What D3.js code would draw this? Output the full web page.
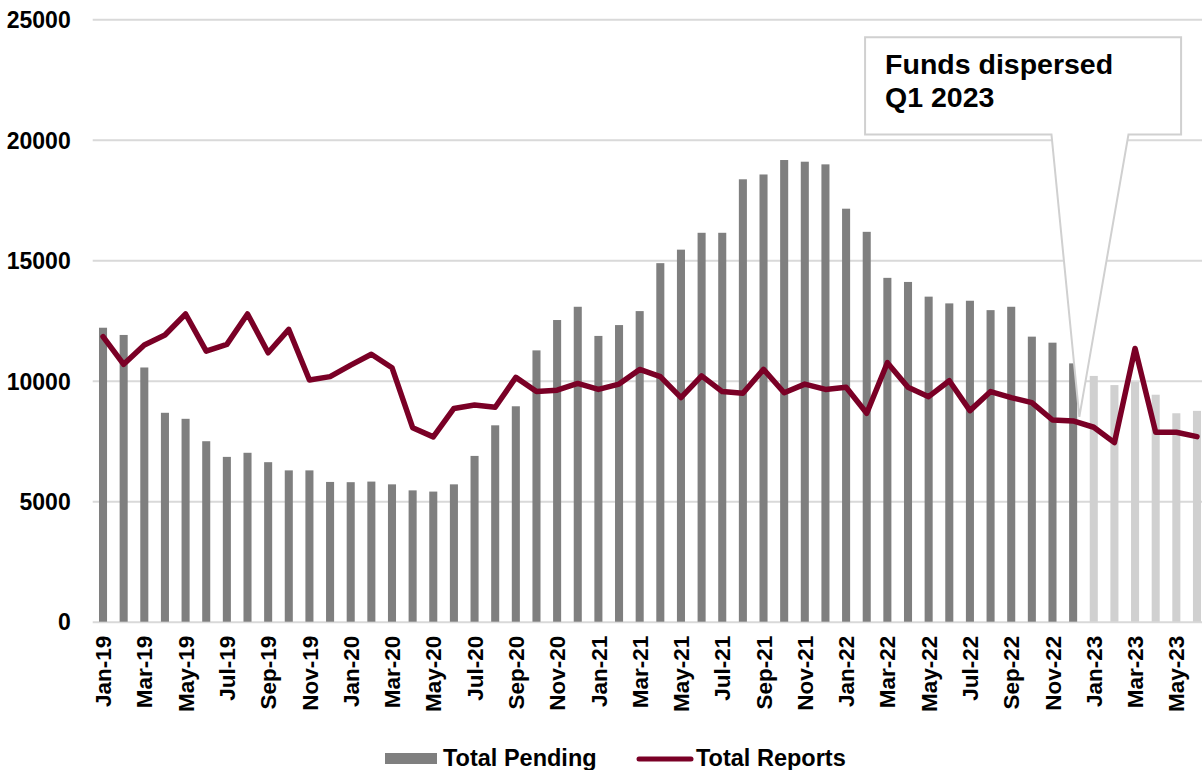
<!DOCTYPE html>
<html>
<head>
<meta charset="utf-8">
<script src="https://cdn.jsdelivr.net/npm/d3@7"></script>
<style>
  html, body { margin: 0; padding: 0; background: #ffffff; }
  svg { display: block; font-family: "Liberation Sans", Arial, sans-serif; }
</style>
</head>
<body>
<script>
const months = [
  "Jan-19","Feb-19","Mar-19","Apr-19","May-19","Jun-19","Jul-19","Aug-19","Sep-19","Oct-19","Nov-19","Dec-19",
  "Jan-20","Feb-20","Mar-20","Apr-20","May-20","Jun-20","Jul-20","Aug-20","Sep-20","Oct-20","Nov-20","Dec-20",
  "Jan-21","Feb-21","Mar-21","Apr-21","May-21","Jun-21","Jul-21","Aug-21","Sep-21","Oct-21","Nov-21","Dec-21",
  "Jan-22","Feb-22","Mar-22","Apr-22","May-22","Jun-22","Jul-22","Aug-22","Sep-22","Oct-22","Nov-22","Dec-22",
  "Jan-23","Feb-23","Mar-23","Apr-23","May-23","Jun-23"
];
const totalPending = [
  12200, 11900, 10550, 8670, 8420, 7490, 6840, 7010, 6620, 6280, 6280, 5800,
  5790, 5815, 5700, 5450, 5400, 5700, 6880, 8150, 8940, 11260, 12520, 13070,
  11860, 12310, 12890, 14880, 15440, 16140, 16140, 18360, 18560, 19160, 19090, 18980,
  17140, 16180, 14270, 14100, 13490, 13210, 13320, 12930, 13070, 11830, 11580, 10720,
  10200, 9820, 9950, 9420, 8650, 8750
];
const totalReports = [
  11830, 10680, 11480, 11900, 12770, 11230, 11510, 12770, 11160, 12130, 10030, 10170,
  10650, 11100, 10540, 8050, 7670, 8850, 8990, 8900, 10140, 9550, 9610, 9890,
  9640, 9860, 10470, 10170, 9300, 10200, 9550, 9480, 10470, 9500, 9860, 9640,
  9730, 8650, 10750, 9730, 9340, 10000, 8760, 9550, 9300, 9090, 8370, 8330,
  8070, 7430, 11340, 7860, 7860, 7680
];
const yTicks = [0, 5000, 10000, 15000, 20000, 25000];
const fundsMonth = "Jan-23";
const seriesNames = ["Total Pending", "Total Reports"];
const calloutLines = ["Funds dispersed", "Q1 2023"];

const W = 1202, H = 770;
const svg = d3.select("body").append("svg").attr("width", W).attr("height", H);

const x = d3.scaleBand().domain(months)
  .range([92.7, 1207.3]).paddingInner(0.61).paddingOuter(0.305);
const y = d3.scaleLinear().domain([0, 25000]).range([621.7, 19.3]);
const step = x.step();
const fundsIdx = months.indexOf(fundsMonth);

// gridlines + y labels
const yAxis = d3.axisLeft(y).tickValues(yTicks).tickFormat(d3.format("d"))
  .tickSize(-(1207.3 - 92.7)).tickPadding(22);
const gy = svg.append("g").attr("transform", "translate(92.7,0)").call(yAxis);
gy.select(".domain").remove();
gy.selectAll(".tick line").attr("stroke", "#d9d9d9").attr("stroke-width", 2);
gy.selectAll(".tick text").attr("fill", "#000").attr("font-size", "23px")
  .attr("font-weight", "bold").attr("font-family", "Liberation Sans, Arial, sans-serif")
  .attr("dy", "0.36em");

// bars
const barData = months.map((m, i) => ({ m, i, v: totalPending[i] }));
svg.append("g").selectAll("rect").data(barData).join("rect")
  .attr("x", d => x(d.m))
  .attr("width", x.bandwidth())
  .attr("y", d => y(d.v))
  .attr("height", d => y(0) - y(d.v))
  .attr("fill", d => d.i >= fundsIdx ? "#d0d0d0" : "#7f7f7f");

// callout (box + wedge)
const xi = k => x.range()[0] + k * step; // position by category steps
const bx0 = xi(37.42), bx1 = xi(52.73);
const by0 = y(24250), by1 = y(20220);
const px0 = xi(46.45), px1 = xi(50.18);
const tipX = xi(fundsIdx - 0.2), tipY = y(8500);
const calloutPath = d3.path();
calloutPath.moveTo(bx0, by0);
calloutPath.lineTo(bx1, by0);
calloutPath.lineTo(bx1, by1);
calloutPath.lineTo(px1, by1);
calloutPath.lineTo(tipX, tipY);
calloutPath.lineTo(px0, by1);
calloutPath.lineTo(bx0, by1);
calloutPath.closePath();
svg.append("path").attr("d", calloutPath.toString())
  .attr("fill", "#ffffff").attr("stroke", "#d0d0d0").attr("stroke-width", 2)
  .attr("stroke-linejoin", "miter");
const ct = svg.append("text").attr("font-size", "28.5px").attr("font-weight", "bold").attr("fill", "#000");
calloutLines.forEach((t, k) => {
  ct.append("tspan").attr("x", bx0 + 20).attr("y", 74 + k * 33).text(t);
});

// line
const line = d3.line().x((d, i) => x(months[i]) + x.bandwidth() / 2).y(d => y(d));
svg.append("path").datum(totalReports).attr("d", line)
  .attr("fill", "none").attr("stroke", "#7a0026").attr("stroke-width", 5.5)
  .attr("stroke-linejoin", "round").attr("stroke-linecap", "round");

// x labels
const xAxis = d3.axisBottom(x).tickValues(months.filter((m, i) => i % 2 === 0))
  .tickSize(0).tickPadding(0);
const gx = svg.append("g").attr("transform", `translate(0,${y(0)})`).call(xAxis);
gx.select(".domain").remove();
gx.selectAll(".tick text").attr("fill", "#000").attr("font-size", "22.5px")
  .attr("font-weight", "bold").attr("font-family", "Liberation Sans, Arial, sans-serif")
  .attr("transform", "rotate(-90)")
  .attr("text-anchor", "end")
  .attr("x", -14).attr("y", 0).attr("dy", "0.36em");

// legend
const lg = svg.append("g");
lg.append("rect").attr("x", 385).attr("y", 753).attr("width", 52).attr("height", 11).attr("fill", "#7f7f7f");
lg.append("text").attr("x", 443).attr("y", 766).attr("font-size", "23.5px").attr("font-weight", "bold")
  .attr("fill", "#000").text(seriesNames[0]);
lg.append("line").attr("x1", 639).attr("x2", 691).attr("y1", 759).attr("y2", 759)
  .attr("stroke", "#7a0026").attr("stroke-width", 5).attr("stroke-linecap", "round");
lg.append("text").attr("x", 696).attr("y", 766).attr("font-size", "23.5px").attr("font-weight", "bold")
  .attr("fill", "#000").text(seriesNames[1]);
</script>
</body>
</html>
